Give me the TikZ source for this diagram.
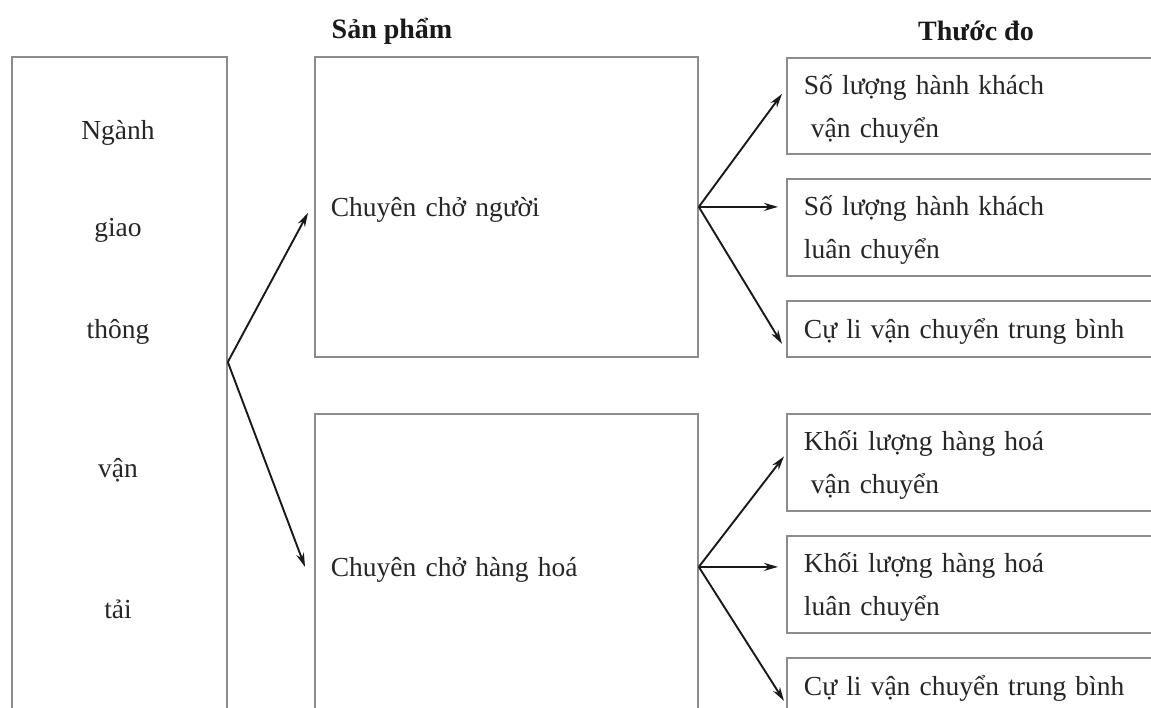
\documentclass[tikz,border=0pt]{standalone}
\usepackage{fontspec}
\setmainfont{Liberation Serif}
\usetikzlibrary{arrows.meta}
\begin{document}
\begin{tikzpicture}[
  x=1pt, y=-1pt,
  font=\fontsize{27.5pt}{43pt}\selectfont,
  every node/.style = {text=black!85},
  frame/.style  = {draw=black!45, line width=1.8pt, rectangle, anchor=north west, inner sep=0pt},
  prod/.style   = {frame, minimum width=383pt, minimum height=300pt, text width=351pt,
                   inner xsep=16pt, align=left},
  meas/.style   = {frame, minimum width=380pt, minimum height=97pt, text width=346pt,
                   inner xsep=17pt, align=left},
  head/.style   = {font=\fontsize{28pt}{34pt}\selectfont\bfseries, text=black!90},
  link/.style   = {draw=black!90, line width=1.9pt, -{Stealth[length=14pt,width=8pt]}},
]
\path[use as bounding box, clip] (0,0) rectangle (1151,708);

% --- column headers -------------------------------------------------------
\node[head] (hp) at (392,31) {Sản phẩm};
\node[head] (hm) at (976,31) {Thước đo};

% --- left column ----------------------------------------------------------
\node[frame, minimum width=215pt, minimum height=704pt] (lbox) at (11,56) {};
\node (w1) at (118,133) {Ngành};
\node (w2) at (118,230) {giao};
\node (w3) at (118,332) {thông};
\node (w4) at (118,470) {vận};
\node (w5) at (118,609) {tải};
\coordinate (lf) at ([yshift=-306pt]lbox.north east);

% --- products -------------------------------------------------------------
\node[prod, text depth=-6pt] (p1) at (314,56) {Chuyên chở người};
\node[prod, text depth=-6pt, minimum height=306pt] (p2) at (314,413) {Chuyên chở hàng hoá};

% --- measures -------------------------------------------------------------
\node[meas, minimum height=96pt] (r1) at (786,57) {\rule{0pt}{26pt}Số lượng hành khách\\\hspace*{7pt}vận chuyển};
\node[meas] (r2) at (786,178) {\rule{0pt}{26pt}Số lượng hành khách\\luân chuyển};
\node[meas, minimum height=56pt, text depth=-4pt] (r3) at (786,300) {Cự li vận chuyển trung bình};
\node[meas] (r4) at (786,413) {\rule{0pt}{26pt}Khối lượng hàng hoá\\\hspace*{7pt}vận chuyển};
\node[meas] (r5) at (786,535) {\rule{0pt}{26pt}Khối lượng hàng hoá\\luân chuyển};
\node[meas, minimum height=56pt, text depth=-4pt] (r6) at (786,657) {Cự li vận chuyển trung bình};

% --- connectors -----------------------------------------------------------
\draw[link] (lf) -- ([xshift=-6pt,yshift=-6pt]p1.west);
\draw[link] (lf) -- ([xshift=-9pt]p2.west);

\draw[link] (p1.east) -- ([xshift=-4pt,yshift=12pt]r1.west);
\draw[link, shorten >=8pt] (p1.east) -- (p1.east -| r2.west);
\draw[link] (p1.east) -- ([xshift=-4pt,yshift=-15pt]r3.west);

\draw[link] (p2.east) -- ([xshift=-2pt,yshift=6pt]r4.west);
\draw[link, shorten >=8pt] (p2.east) -- (p2.east -| r5.west);
\draw[link] (p2.east) -- ([xshift=-2pt,yshift=-15pt]r6.west);

\end{tikzpicture}
\end{document}
